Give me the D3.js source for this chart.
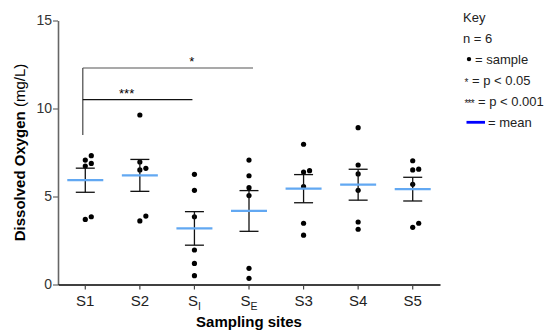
<!DOCTYPE html>
<html>
<head>
<meta charset="utf-8">
<script src="https://cdnjs.cloudflare.com/ajax/libs/d3/7.8.5/d3.min.js"></script>
<style>
    body { margin: 0; background: white; font-family: Arial, "Liberation Sans", Helvetica, sans-serif; }
    svg { display: block; }
</style>
</head>
<body>
<svg id="chart"></svg>
<script>
    // sampling sites (name + subscript)
    let sites = ["S1", "S2", "SI", "SE", "S3", "S4", "S5"]
    let siteLabels = [["S1", ""], ["S2", ""], ["S", "I"], ["S", "E"], ["S3", ""], ["S4", ""], ["S5", ""]]

    // dissolved oxygen samples per site (mg/L), n = 6
    let samplesS1 = [7.32, 7.07, 6.88, 6.73, 3.85, 3.70]
    let samplesS2 = [9.63, 6.96, 6.60, 6.51, 3.89, 3.61]
    let samplesSI = [6.26, 5.35, 3.85, 1.96, 1.20, 0.50]
    let samplesSE = [7.07, 6.18, 5.50, 5.05, 0.92, 0.35]
    let samplesS3 = [7.97, 6.47, 6.39, 5.56, 3.48, 2.80]
    let samplesS4 = [8.91, 6.79, 6.28, 5.35, 3.55, 3.14]
    let samplesS5 = [7.03, 6.55, 6.51, 5.69, 3.48, 3.25]

    let yTicks = [0, 5, 10, 15]

    // significance brackets
    let brackets = [
        { from: "S1", to: "SE", label: "*", level: 12.3 },
        { from: "S1", to: "SI", label: "***", level: 10.5 }
    ]
    let bracketBase = 8.5

    let legendLines = ["Key", "n = 6", "= sample", "= p < 0.05", "= p < 0.001", "= mean"]
    let legendSymbols = ["", "", "dot", "*", "***", "line"]

    let allSamples = [samplesS1, samplesS2, samplesSI, samplesSE, samplesS3, samplesS4, samplesS5]

    let width = 557, height = 331
    let margin = { top: 20.5, bottom: 46.5, left: 58, right: 117 }

    let svg = d3.select("#chart").attr("width", width).attr("height", height)

    let xScale = d3.scaleBand()
        .domain(sites)
        .range([margin.left, width - margin.right])

    let yScale = d3.scaleLinear()
        .domain([0, 15])
        .range([height - margin.bottom, margin.top])

    let cx = s => xScale(s) + xScale.bandwidth() / 2

    // summary stats: mean and SEM
    let stats = sites.map((s, i) => {
        let vals = allSamples[i]
        let mean = d3.mean(vals)
        let sem = d3.deviation(vals) / Math.sqrt(vals.length)
        return { site: s, mean, sem, vals }
    })

    // simple beeswarm so close dots sit side by side
    function spread(vals) {
        let placed = []
        let sorted = vals.slice().sort((a, b) => a - b)
        sorted.forEach(v => {
            let y = yScale(v)
            let offsets = [0, 6, -6, 12, -12]
            for (let o of offsets) {
                let hit = placed.some(p => Math.hypot(p.dx - o, p.y - y) < 5.5)
                if (!hit) { placed.push({ v, y, dx: o }); break }
            }
        })
        return placed
    }

    // axes
    let yAxis = svg.append("g")
        .attr("transform", `translate(${margin.left},0)`)
        .call(d3.axisLeft(yScale).tickValues(yTicks).tickSize(5).tickSizeOuter(0))
    yAxis.select(".domain").attr("stroke", "#666").attr("stroke-width", 1.6)
    yAxis.selectAll(".tick line").attr("stroke", "#666").attr("stroke-width", 1.2)
    yAxis.selectAll(".tick text")
        .attr("font-size", 14).attr("fill", "#333")
        .attr("font-family", "Arial, 'Liberation Sans', sans-serif")
        .attr("x", -6)

    let xAxis = svg.append("g")
        .attr("transform", `translate(0,${yScale(0)})`)
        .call(d3.axisBottom(xScale).tickSize(5).tickSizeOuter(0).tickFormat(""))
    xAxis.select(".domain").attr("stroke", "#000").attr("stroke-width", 1.4)
    xAxis.selectAll(".tick line").attr("stroke", "#444").attr("stroke-width", 1.2)

    // x labels with subscripts
    svg.append("g").selectAll("text")
        .data(sites)
        .join("text")
        .attr("x", d => cx(d))
        .attr("y", yScale(0) + 21)
        .attr("text-anchor", "middle")
        .attr("font-size", 15)
        .attr("fill", "#222")
        .each(function(d, i) {
            let t = d3.select(this)
            t.append("tspan").text(siteLabels[i][0])
            if (siteLabels[i][1]) {
                t.append("tspan").text(siteLabels[i][1])
                    .attr("font-size", 10.5).attr("dy", 4)
            }
        })

    // axis titles
    svg.append("text")
        .attr("x", (margin.left + width - margin.right) / 2)
        .attr("y", 327)
        .attr("text-anchor", "middle")
        .attr("font-size", 15)
        .attr("font-weight", "bold")
        .text("Sampling sites")

    let yTitle = svg.append("text")
        .attr("transform", `translate(25,${(yScale(0) + yScale(15)) / 2}) rotate(-90)`)
        .attr("text-anchor", "middle")
        .attr("font-size", 15)
    yTitle.append("tspan").attr("font-weight", "bold").text("Dissolved Oxygen ")
    yTitle.append("tspan").text("(mg/L)")

    // dots
    let body = svg.append("g")
    stats.forEach(st => {
        body.append("g").selectAll("circle")
            .data(spread(st.vals))
            .join("circle")
            .attr("cx", d => cx(st.site) + d.dx)
            .attr("cy", d => d.y)
            .attr("r", 2.6)
            .attr("fill", "#000")
    })

    // error bars (mean ± SEM)
    let eb = body.append("g").attr("stroke", "#111").attr("stroke-width", 1.3)
    eb.selectAll(".v").data(stats).join("line")
        .attr("x1", d => cx(d.site)).attr("x2", d => cx(d.site))
        .attr("y1", d => yScale(d.mean + d.sem)).attr("y2", d => yScale(d.mean - d.sem))
    eb.selectAll(".t").data(stats).join("line")
        .attr("x1", d => cx(d.site) - 9.5).attr("x2", d => cx(d.site) + 9.5)
        .attr("y1", d => yScale(d.mean + d.sem)).attr("y2", d => yScale(d.mean + d.sem))
    eb.selectAll(".b").data(stats).join("line")
        .attr("x1", d => cx(d.site) - 9.5).attr("x2", d => cx(d.site) + 9.5)
        .attr("y1", d => yScale(d.mean - d.sem)).attr("y2", d => yScale(d.mean - d.sem))

    // mean lines
    body.append("g").selectAll("line")
        .data(stats)
        .join("line")
        .attr("x1", d => cx(d.site) - 18)
        .attr("x2", d => cx(d.site) + 18)
        .attr("y1", d => yScale(d.mean))
        .attr("y2", d => yScale(d.mean))
        .attr("stroke", "#62a8f2")
        .attr("stroke-width", 2.2)

    // significance brackets
    let bx = cx("S1") - 2.5
    let topLevel = d3.max(brackets, d => d.level)
    svg.append("line")
        .attr("x1", bx).attr("x2", bx)
        .attr("y1", yScale(topLevel)).attr("y2", yScale(bracketBase))
        .attr("stroke", "#555").attr("stroke-width", 1.3)
    let labelFrac = [0.64, 0.4]
    brackets.forEach((b, i) => {
        let x2 = cx(b.to) + (i == 0 ? 4 : -2)
        svg.append("line")
            .attr("x1", bx).attr("x2", x2)
            .attr("y1", yScale(b.level)).attr("y2", yScale(b.level))
            .attr("stroke", i == 0 ? "#555" : "#111").attr("stroke-width", 1.2)
        svg.append("text")
            .attr("x", bx + (x2 - bx) * labelFrac[i])
            .attr("y", yScale(b.level) - 2)
            .attr("text-anchor", "middle")
            .attr("font-size", 13)
            .text(b.label)
    })

    // legend
    let lg = svg.append("g").attr("font-size", 13).attr("fill", "#222")
    let eqX = [0, 0, 475, 472, 478, 488]
    legendLines.forEach((t, i) => {
        let y = 22.3 + i * 20.9
        let sym = legendSymbols[i]
        if (i < 2) {
            lg.append("text").attr("x", 463).attr("y", y).text(t)
            return
        }
        if (sym == "line") {
            lg.append("line")
                .attr("x1", 466.5).attr("x2", 485)
                .attr("y1", y - 4.5).attr("y2", y - 4.5)
                .attr("stroke", "#0000ff").attr("stroke-width", 2.8)
        } else if (sym == "dot") {
            lg.append("circle").attr("cx", 469).attr("cy", y - 5).attr("r", 2.2).attr("fill", "#000")
        } else {
            lg.append("text").attr("x", 464.5).attr("y", y + 1)
                .attr("font-size", 10).attr("letter-spacing", -0.8).text(sym)
        }
        lg.append("text").attr("x", eqX[i]).attr("y", y).text(t)
    })
</script>
</body>
</html>
